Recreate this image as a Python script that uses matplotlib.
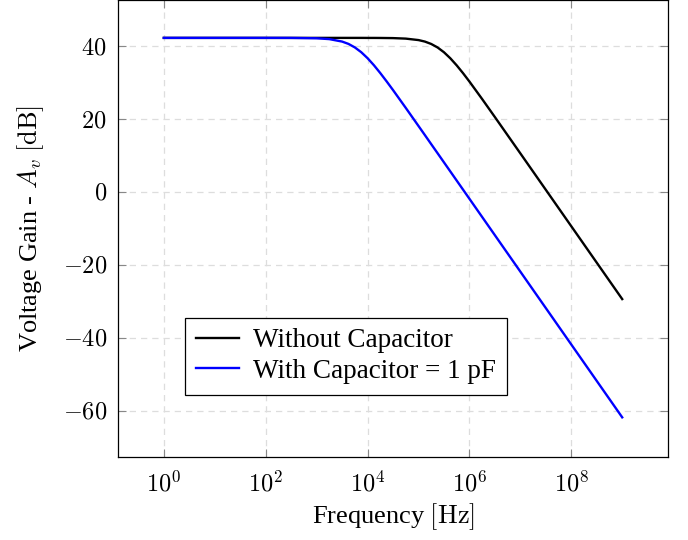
import matplotlib
matplotlib.use("Agg")
import matplotlib.pyplot as plt
from matplotlib.ticker import FixedLocator, FuncFormatter, NullLocator
import numpy as np

plt.rcParams['font.family'] = ['Liberation Serif', 'DejaVu Serif']
plt.rcParams['mathtext.fontset'] = 'cm'

# frequency [Hz]
freq = [1, 10, 100, 316.2, 1e3, 1778, 3162, 4217, 5623, 7499,
        1e4, 1.334e4, 1.778e4, 2.371e4, 3.162e4, 5.623e4,
        1e5, 1.334e5, 1.778e5, 2.371e5, 3.162e5, 4.217e5, 5.623e5, 7.499e5,
        1e6, 1.778e6, 3.162e6, 1e7, 1e8, 1e9]

gain_without = [42.30, 42.30, 42.30, 42.30, 42.30, 42.30, 42.30, 42.30, 42.30, 42.30,
                42.29, 42.29, 42.28, 42.26, 42.24, 42.10,
                41.70, 41.29, 40.63, 39.67, 38.36, 36.70, 34.76, 32.61,
                30.32, 25.51, 20.57, 10.60, -9.40, -29.40]

gain_with = [42.30, 42.30, 42.30, 42.29, 42.19, 41.96, 41.29, 40.65, 39.69, 38.38,
             36.73, 34.79, 32.64, 30.35, 27.98, 23.09,
             18.12, 15.63, 13.13, 10.64, 8.14, 5.64, 3.14, 0.64,
             -1.86, -6.86, -11.86, -21.86, -41.86, -61.86]

labels = ["Without Capacitor", "With Capacitor = 1 pF"]
xticks = [1, 1e2, 1e4, 1e6, 1e8]
yticks = [-60, -40, -20, 0, 20, 40]

fig = plt.figure(figsize=(6.88, 5.40), dpi=100)
ax = fig.add_axes([0.1715, 0.154, 0.7995, 0.846])

ax.plot(freq, gain_without, color='black', lw=1.7, label=labels[0])
ax.plot(freq, gain_with, color='blue', lw=1.7, label=labels[1])

ax.set_xscale('log')
ax.set_xlim(10**-0.9, 10**9.9)
ax.set_ylim(-72.7, 52.7)

ax.xaxis.set_major_locator(FixedLocator(xticks))
ax.xaxis.set_minor_locator(NullLocator())
ax.yaxis.set_major_locator(FixedLocator(yticks))
ax.xaxis.set_major_formatter(FuncFormatter(lambda v, p: r"$10^{%d}$" % round(np.log10(v))))
ax.yaxis.set_major_formatter(FuncFormatter(lambda v, p: r"$%d$" % v))

ax.tick_params(direction='in', which='both', top=True, right=True,
               length=6, width=0.8, color='#888888', labelsize=17.5)
ax.tick_params(axis='x', pad=10)
ax.tick_params(axis='y', pad=8)
for s in ax.spines.values():
    s.set_linewidth(0.9)
    s.set_color('black')

ax.grid(True, which='major', linestyle=(0, (5, 4)), color='#dddddd', lw=0.9)
ax.set_axisbelow(True)

ax.set_xlabel(r"Frequency $[\mathrm{Hz}]$", fontsize=19, labelpad=4)
ax.set_ylabel(r"Voltage Gain - $A_v$ $[\mathrm{dB}]$", fontsize=19, labelpad=12)

leg = ax.legend(loc='lower left', bbox_to_anchor=(0.122, 0.136), borderaxespad=0,
                fontsize=19.5, fancybox=False, edgecolor='black', framealpha=1,
                handlelength=1.6, handletextpad=0.5, borderpad=0.4, labelspacing=0.2)
leg.get_frame().set_linewidth(0.9)

fig.savefig("out.png", dpi=100)
